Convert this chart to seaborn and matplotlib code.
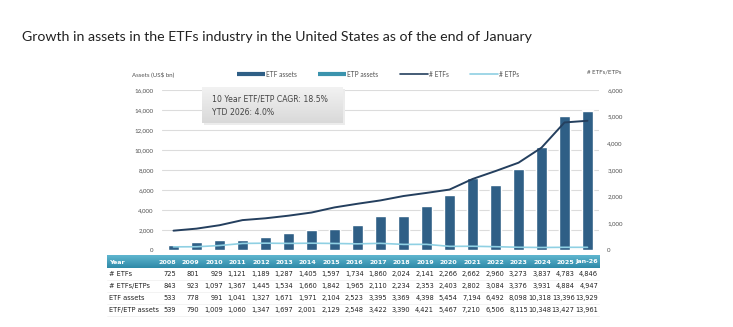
import numpy as np
import pandas as pd
import matplotlib
matplotlib.use("Agg")
import matplotlib.pyplot as plt
from matplotlib.lines import Line2D
import seaborn as sns

# ---- data ----
years = ["2008", "2009", "2010", "2011", "2012", "2013", "2014", "2015", "2016",
         "2017", "2018", "2019", "2020", "2021", "2022", "2023", "2024", "2025", "Jan-26"]
n_etfs = [725, 801, 929, 1121, 1189, 1287, 1405, 1597, 1734, 1860, 2024, 2141,
          2266, 2662, 2960, 3273, 3837, 4783, 4846]
n_etfs_etps = [843, 923, 1097, 1367, 1445, 1534, 1660, 1842, 1965, 2110, 2234, 2353,
               2403, 2802, 3084, 3376, 3931, 4884, 4947]
etf_assets = [533, 778, 991, 1041, 1327, 1671, 1971, 2104, 2523, 3395, 3369, 4398,
              5454, 7194, 6492, 8098, 10318, 13396, 13929]
etf_etp_assets = [539, 790, 1009, 1060, 1347, 1697, 2001, 2129, 2548, 3422, 3390, 4421,
                  5467, 7210, 6506, 8115, 10348, 13427, 13961]
n_etps = [118, 122, 168, 246, 256, 247, 255, 245, 231, 250, 210, 212, 137, 140,
          124, 103, 94, 101, 101]

table_rows = [("# ETFs", n_etfs), ("# ETFs/ETPs", n_etfs_etps),
              ("ETF assets", etf_assets), ("ETF/ETP assets", etf_etp_assets)]

df = pd.DataFrame({"year": years, "pos": range(len(years)),
                   "n_etfs": n_etfs, "n_etps": n_etps,
                   "etf_assets": etf_assets, "etf_etp_assets": etf_etp_assets})

# ---- style ----
sns.set_theme(style="white")
plt.rcParams["font.family"] = ["Lato", "DejaVu Sans"]

C_ETF = "#2f5f86"
C_ETP = "#3b93ad"
C_NETF = "#243f5e"
C_NETP = "#8fd0e3"
C_TXT = "#505050"
TBL_FONT = ["DejaVu Sans"]

W, H = 733, 327
fig = plt.figure(figsize=(W / 100, H / 100), dpi=100)


def fx(px):
    return px / W


def fy(py):
    return 1 - py / H


ax_l, ax_r, ax_t, ax_b = 162, 599, 90, 250
ax = fig.add_axes([fx(ax_l), fy(ax_b), fx(ax_r - ax_l), (ax_b - ax_t) / H])

# bars: ETF/ETP total behind, ETF assets in front
sns.barplot(data=df, x="year", y="etf_etp_assets", color=C_ETP, width=0.48,
            saturation=1, ax=ax, zorder=2)
sns.barplot(data=df, x="year", y="etf_assets", color=C_ETF, width=0.48,
            saturation=1, ax=ax, zorder=3)
ax.set_ylim(0, 16000)
ax.set_xlim(-0.5, len(years) - 0.5)
ax.set_yticks(range(0, 16001, 2000))
ax.set_yticklabels([f"{v:,}" for v in range(0, 16001, 2000)], fontsize=4.4, color=C_TXT)
ax.set_xticks([])
ax.set_xlabel("")
ax.set_ylabel("")
ax.tick_params(axis="y", length=0, pad=6)
ax.grid(axis="y", color="#dcdcdc", linewidth=0.8, zorder=0)
ax.set_axisbelow(True)
for s in ax.spines.values():
    s.set_visible(False)

# counts on the secondary axis
ax2 = ax.twinx()
sns.lineplot(data=df, x="pos", y="n_etfs", color=C_NETF, linewidth=1.4, ax=ax2, zorder=4)
sns.lineplot(data=df, x="pos", y="n_etps", color=C_NETP, linewidth=1.2, ax=ax2, zorder=4)
ax2.set_ylim(0, 6000)
ax2.set_yticks(range(0, 6001, 1000))
ax2.set_yticklabels([f"{v:,}" for v in range(0, 6001, 1000)], fontsize=4.4, color=C_TXT)
ax2.tick_params(axis="y", length=0, pad=6)
ax2.set_xlabel("")
ax2.set_ylabel("")
ax2.grid(False)
for s in ax2.spines.values():
    s.set_visible(False)

# axis captions
fig.text(fx(132), fy(74), "Assets (US$ bn)", fontsize=4.4, color=C_TXT, va="center")
fig.text(fx(621), fy(72), "# ETFs/ETPs", fontsize=4.4, color=C_TXT, va="center", ha="right")

# legend
handles = [Line2D([], [], color=C_ETF, lw=3, solid_capstyle="butt"),
           Line2D([], [], color=C_ETP, lw=3, solid_capstyle="butt"),
           Line2D([], [], color=C_NETF, lw=1.2),
           Line2D([], [], color=C_NETP, lw=1.2)]
fig.legend(handles, ["ETF assets", "ETP assets", "# ETFs", "# ETPs"],
           loc="center", bbox_to_anchor=(fx(378), fy(74)), ncol=4, frameon=False,
           fontsize=4.8, handlelength=4.2, handletextpad=0.15, columnspacing=3.2,
           labelcolor=C_TXT)

# CAGR callout box with a soft vertical gradient and a faint drop shadow
sh = fig.add_axes([fx(204), fy(125), fx(343 - 202), (123 - 87) / H])
sh.set_facecolor("#ececec")
sh.set_xticks([])
sh.set_yticks([])
for s in sh.spines.values():
    s.set_visible(False)
bx = fig.add_axes([fx(202), fy(123), fx(343 - 202), (123 - 87) / H])
grad = np.linspace(0, 1, 64).reshape(-1, 1)
bx.imshow(grad, aspect="auto", cmap=matplotlib.colors.LinearSegmentedColormap.from_list(
    "g", ["#f2f2f2", "#d9d9d9"]), extent=(0, 1, 0, 1), origin="upper")
bx.set_axis_off()
bx.text(0.07, 0.68, "10 Year ETF/ETP CAGR: 18.5%", fontsize=5.6, color="#444444",
        va="center", ha="left", family=["DejaVu Sans"], transform=bx.transAxes)
bx.text(0.07, 0.30, "YTD 2026: 4.0%", fontsize=5.6, color="#444444",
        va="center", ha="left", family=["DejaVu Sans"], transform=bx.transAxes)

# title
fig.text(fx(22), fy(37), "Growth in assets in the ETFs industry in the United States as of the end of January",
         fontsize=10.2, color="#222222", va="center", ha="left")

# data table under the chart
tbl_l, tbl_r = 107, 599
hdr_top, hdr_bot = 255, 268
hdr = fig.add_axes([fx(tbl_l), fy(hdr_bot), fx(tbl_r - tbl_l), (hdr_bot - hdr_top) / H])
hgrad = np.linspace(0, 1, 32).reshape(-1, 1)
hdr.imshow(hgrad, aspect="auto", cmap=matplotlib.colors.LinearSegmentedColormap.from_list(
    "h", ["#5fb6cf", "#2f8aa8"]), extent=(0, 1, 0, 1), origin="upper")
hdr.set_axis_off()

col_right = [176 + i * 23.45 for i in range(len(years))]
row_y = [274, 286, 298, 310]
fig.text(fx(109), fy(262), "Year", fontsize=4.6, color="white", fontweight="bold",
         va="center", ha="left", family=TBL_FONT)
for xr, yr in zip(col_right, years):
    fig.text(fx(xr), fy(262), yr, fontsize=4.6, color="white", fontweight="bold",
             va="center", ha="right", family=TBL_FONT)
for ry, (label, vals) in zip(row_y, table_rows):
    fig.text(fx(109), fy(ry), label, fontsize=4.8, color="#222222", va="center",
             ha="left", family=TBL_FONT)
    for xr, v in zip(col_right, vals):
        fig.text(fx(xr), fy(ry), f"{v:,}", fontsize=4.8, color="#222222",
                 va="center", ha="right", family=TBL_FONT)
    fig.add_artist(Line2D([fx(tbl_l), fx(tbl_r)], [fy(ry + 6), fy(ry + 6)],
                          color="#eeeeee", lw=0.5))

fig.savefig("out.png", dpi=100, facecolor="white")
